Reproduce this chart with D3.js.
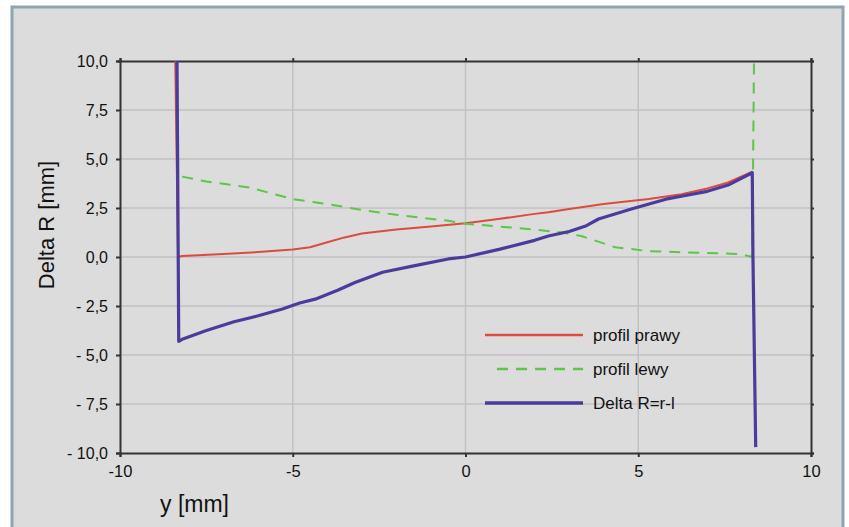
<!DOCTYPE html>
<html>
<head>
<meta charset="utf-8">
<script src="https://cdn.jsdelivr.net/npm/d3@7"></script>
<style>
  html, body { margin: 0; padding: 0; background: #ffffff; }
  svg { display: block; font-family: "Liberation Sans", Arial, sans-serif; }
</style>
</head>
<body>
<div id="chart"></div>
<script>
// Values
const xTicks = [-10, -5, 0, 5, 10];
const yTicks = [10, 7.5, 5, 2.5, 0, -2.5, -5, -7.5, -10];

const prawyX = [-8.4, -8.32, -8.2, -7, -6, -5, -4.5, -4, -3.5, -3, -2, -1, 0, 1, 2, 2.4, 3, 4, 5.3, 6.25, 7, 7.6, 8.3];
const prawyY = [10, 0.0, 0.05, 0.15, 0.25, 0.38, 0.5, 0.75, 1.0, 1.2, 1.4, 1.55, 1.72, 1.95, 2.2, 2.28, 2.45, 2.7, 2.96, 3.2, 3.5, 3.8, 4.35];

const lewyX = [-8.2, -7.5, -6.25, -5, -4, -3, -2, -0.5, 0, 1, 2, 2.8, 3.35, 4.33, 5.3, 6.7, 7.95, 8.3, 8.35];
const lewyY = [4.1, 3.85, 3.55, 2.95, 2.7, 2.4, 2.15, 1.85, 1.7, 1.55, 1.4, 1.25, 1.07, 0.5, 0.3, 0.22, 0.15, 0.0, 10];

const deltaX = [-8.35, -8.3, -8.2, -7.5, -6.7, -6, -5.3, -4.8, -4.35, -3.7, -3.2, -2.4, -1.5, -0.5, 0, 1, 2, 2.4, 3, 3.5, 3.85, 4.8, 5.8, 6.25, 7, 7.6, 8.3, 8.32, 8.4];
const deltaY = [10, -4.3, -4.2, -3.75, -3.3, -3.0, -2.65, -2.35, -2.15, -1.7, -1.3, -0.78, -0.45, -0.1, 0.0, 0.4, 0.85, 1.07, 1.3, 1.6, 1.94, 2.45, 2.95, 3.1, 3.35, 3.67, 4.3, 0, -9.7];

const seriesNames = ["profil prawy", "profil lewy", "Delta R=r-l"];

const width = 849;
const height = 527;
const margin = { left: 120, top: 61, right: 849 - 811, bottom: 527 - 453 };
const font = '"Liberation Sans", Arial, sans-serif';

const svg = d3.select('#chart')
    .append('svg')
    .attr('width', width)
    .attr('height', height);

// panel with blue-grey frame
svg.append('rect')
    .attr('x', 12).attr('y', 7)
    .attr('width', 831).attr('height', 540)
    .attr('fill', '#dcdcdc')
    .attr('stroke', '#8fa3b1')
    .attr('stroke-width', 3);

const x = d3.scaleLinear().domain([-10, 10]).range([margin.left, width - margin.right]);
const y = d3.scaleLinear().domain([-10, 10]).range([height - margin.bottom, margin.top]);

// grid
const grid = svg.append('g');
grid.selectAll('.gx')
    .data(xTicks.slice(1, -1))
    .enter().append('line')
    .attr('x1', d => x(d)).attr('x2', d => x(d))
    .attr('y1', y(10)).attr('y2', y(-10))
    .attr('stroke', '#c2c2c2').attr('stroke-width', 1.5);
grid.selectAll('.gy')
    .data(yTicks.slice(1, -1))
    .enter().append('line')
    .attr('x1', x(-10)).attr('x2', x(10))
    .attr('y1', d => y(d)).attr('y2', d => y(d))
    .attr('stroke', '#c2c2c2').attr('stroke-width', 1.5);

// axes
const fmtY = d => {
    const s = d3.format('.1f')(Math.abs(d)).replace('.', ',');
    return d < 0 ? '- ' + s : s;
};

svg.append('g')
    .attr('transform', `translate(0,${y(-10)})`)
    .call(d3.axisBottom(x).tickValues(xTicks).tickSize(4).tickPadding(8).tickFormat(d => d < 0 ? '-' + Math.abs(d) : '' + d))
    .call(g => g.select('.domain').attr('stroke', '#333').attr('stroke-width', 2))
    .call(g => g.selectAll('.tick line').attr('stroke', '#333').attr('stroke-width', 2))
    .call(g => g.selectAll('.tick text').attr('font-size', 16.5).attr('fill', '#111').attr('font-family', font));

svg.append('g')
    .attr('transform', `translate(${x(-10)},0)`)
    .call(d3.axisLeft(y).tickValues(yTicks).tickSize(4).tickPadding(8).tickFormat(fmtY))
    .call(g => g.select('.domain').attr('stroke', '#333').attr('stroke-width', 2))
    .call(g => g.selectAll('.tick line').attr('stroke', '#333').attr('stroke-width', 2))
    .call(g => g.selectAll('.tick text').attr('font-size', 16).attr('fill', '#111').attr('font-family', font));

svg.append('g')
    .attr('transform', `translate(0,${y(10)})`)
    .call(d3.axisTop(x).tickValues(xTicks).tickSize(3).tickFormat(''))
    .call(g => g.select('.domain').attr('stroke', '#333').attr('stroke-width', 2))
    .call(g => g.selectAll('.tick line').attr('stroke', '#333').attr('stroke-width', 2));

svg.append('g')
    .attr('transform', `translate(${x(10)},0)`)
    .call(d3.axisRight(y).tickValues(yTicks).tickSize(3).tickFormat(''))
    .call(g => g.select('.domain').attr('stroke', '#333').attr('stroke-width', 2))
    .call(g => g.selectAll('.tick line').attr('stroke', '#333').attr('stroke-width', 2));

// axis titles
svg.append('text')
    .attr('x', 160).attr('y', 512)
    .attr('font-size', 23).attr('fill', '#111')
    .text('y [mm]');

svg.append('text')
    .attr('transform', `translate(54,225) rotate(-90)`)
    .attr('text-anchor', 'middle')
    .attr('font-size', 22).attr('fill', '#111')
    .text('Delta R [mm]');

// series
const line = d3.line().x(d => x(d[0])).y(d => y(d[1])).curve(d3.curveMonotoneX);
const lineRaw = d3.line().x(d => x(d[0])).y(d => y(d[1]));
const series = [
    { xs: prawyX, ys: prawyY, color: '#dd4b3e', w: 2, dash: null },
    { xs: lewyX, ys: lewyY, color: '#5cc646', w: 2, dash: '11,8' },
    { xs: deltaX, ys: deltaY, color: '#4a3c9c', w: 3.2, dash: null }
];

series.forEach(s => {
    svg.append('path')
        .datum(d3.zip(s.xs, s.ys))
        .attr('d', lineRaw)
        .attr('fill', 'none')
        .attr('stroke', s.color)
        .attr('stroke-width', s.w)
        .attr('stroke-linejoin', 'round')
        .attr('stroke-dasharray', s.dash);
});

// legend
const legend = svg.append('g');
const legendY = [335, 369, 403];
series.forEach((s, i) => {
    legend.append('line')
        .attr('x1', i === 1 ? 497 : 485).attr('x2', 583)
        .attr('y1', legendY[i]).attr('y2', legendY[i])
        .attr('stroke', s.color)
        .attr('stroke-width', s.w + 0.5)
        .attr('stroke-dasharray', s.dash);
    legend.append('text')
        .attr('x', 593).attr('y', legendY[i] + 6)
        .attr('font-size', 17).attr('fill', '#111')
        .text(seriesNames[i]);
});
</script>
</body>
</html>
